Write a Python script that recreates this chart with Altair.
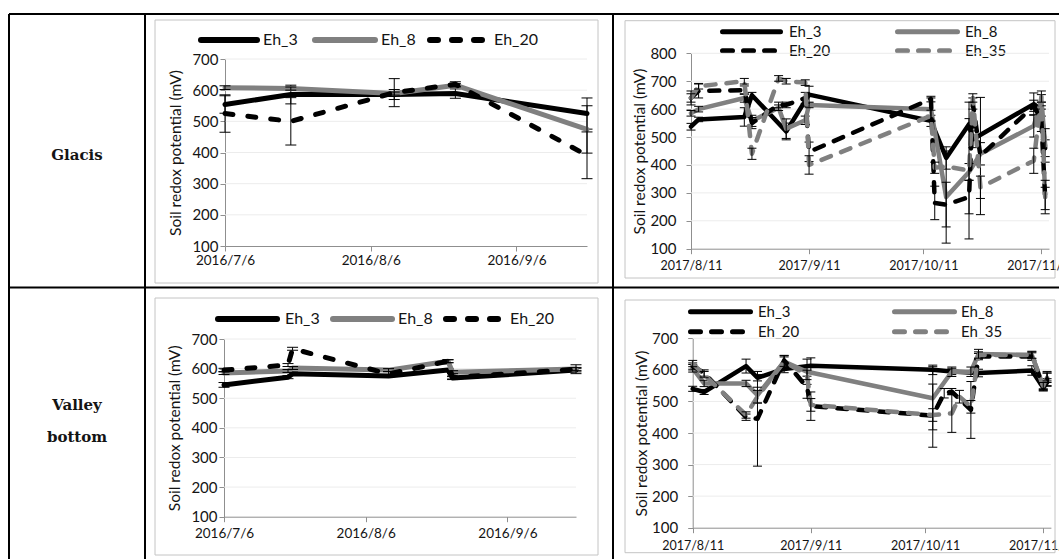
import altair as alt
import pandas as pd

# ------------------------------------------------------------------ data
# Glacis, 2016 campaign
GL16_DATES = ["2016-07-06", "2016-07-20", "2016-08-11", "2016-08-24", "2016-09-21"]
GL16_EH3 = [554, 586, 586, 589, 525]
GL16_EH3_SD = [28, 30, 16, 15, 50]
GL16_EH8 = [608, 605, 589, 616, 474]
GL16_EH8_SD = [6, 5, 5, 5, 76]
GL16_EH20 = [525, 500, 592, 619, 391]
GL16_EH20_SD = [60, 76, 45, 8, 75]

# Valley bottom, 2016 campaign
VB16_DATES = ["2016-07-06", "2016-07-20", "2016-07-21", "2016-08-11",
              "2016-08-24", "2016-08-25", "2016-09-21"]
VB16_EH3 = [545, 571, 583, 575, 595, 568, 595]
VB16_EH3_SD = [8, 5, 5, 5, 5, 5, 6]
VB16_EH8 = [585, 592, 602, 595, 625, 588, 599]
VB16_EH8_SD = [5, 5, 5, 5, 5, 5, 5]
VB16_EH20 = [595, 612, 667, 582, 625, 570, 598]
VB16_EH20_SD = [6, 5, 5, 8, 5, 5, 15]

# Glacis, 2017 campaign
GL17_DATES = ["2017-08-11", "2017-08-13", "2017-08-25", "2017-08-27", "2017-09-03",
              "2017-09-05", "2017-09-10", "2017-09-11", "2017-10-13", "2017-10-14",
              "2017-10-17", "2017-10-23", "2017-10-24", "2017-10-26", "2017-11-09",
              "2017-11-11", "2017-11-12"]
GL17_EH3 = [537, 563, 572, 650, None, 520, None, 652, 558, None, 425, 546, 492, None, 618, 600, 460]
GL17_EH3_SD = [12, 8, 33, 10, None, 30, None, 30, 20, None, 40, 20, 30, None, 40, 25, 30]
GL17_EH8 = [585, 600, 640, 558, 605, 530, 560, 615, 600, None, 285, 375, None, 440, 540, 632, 470]
GL17_EH8_SD = [10, 10, 15, 20, 10, 35, 15, 10, 40, None, 165, 30, None, 40, 40, 20, 60]
GL17_EH20 = [640, 665, 668, 550, 615, 615, 640, 447, 636, 264, 258, 285, 620, 432, 612, 560, 280]
GL17_EH20_SD = [25, 25, 15, 20, 10, 10, 20, 35, 10, 60, 80, 60, 20, 210, 20, 40, 40]
GL17_EH35 = [640, 682, 700, 440, 710, 700, 695, 400, 576, 390, 395, 380, 640, 320, 415, 645, 285]
GL17_EH35_SD = [15, 10, 10, 20, 10, 10, 10, 33, 20, 20, None, 245, 15, 40, 45, 20, 60]

# Valley bottom, 2017 campaign
VB17_DATES = ["2017-08-11", "2017-08-14", "2017-08-25", "2017-08-28", "2017-09-04",
              "2017-09-10", "2017-09-11", "2017-10-13", "2017-10-16", "2017-10-18",
              "2017-10-20", "2017-10-23", "2017-10-25", "2017-11-08", "2017-11-11",
              "2017-11-12"]
VB17_EH3 = [540, 530, 612, 575, 603, None, 613, 600, None, 595, None, None, 590, 598, 543, 560]
VB17_EH3_SD = [8, 8, 22, 10, 12, None, 25, 15, None, 10, None, None, 12, 15, 10, 12]
VB17_EH8 = [605, 557, 557, 520, 626, 594, None, 510, None, 594, None, 594, 650, 647, 548, 575]
VB17_EH8_SD = [12, 10, 10, 25, 20, 40, None, 100, None, 15, None, 15, 15, 12, 10, 15]
VB17_EH20 = [612, 590, 450, 445, 630, 545, 485, 455, 526, 531, None, 473, 642, 642, 547, 570]
VB17_EH20_SD = [10, 10, 10, 150, 15, 35, 45, 100, 15, 10, None, 90, 10, 12, 12, 20]
VB17_EH35 = [620, 585, 457, 515, 626, 584, 489, 457, None, 462, 515, 483, 647, 647, 550, 580]
VB17_EH35_SD = [10, 10, 10, 20, 15, 15, 20, 20, None, 60, 20, 20, 10, 10, 10, 15]

ROW_LABELS = [["Glacis"], ["Valley", "bottom"]]
Y_TITLE = "Soil redox potential (mV)"

# ------------------------------------------------------------------ style
W, H = 1059, 559
FONT = "Lato"
SERIF = "DejaVu Serif"
INK = "#141414"
AXIS_GREY = "#8f8f8f"
GRID_GREY = "#ececec"
FRAME_GREY = "#c4c4c4"
SERIES_COLOR = {"Eh_3": "#000000", "Eh_8": "#808080", "Eh_20": "#000000", "Eh_35": "#808080"}
SERIES_DASHED = {"Eh_3": False, "Eh_8": False, "Eh_20": True, "Eh_35": True}

ONE = alt.Data(values=[{}])


def dt(s):
    y, m, d = (int(p) for p in s.split("-"))
    return alt.DateTime(year=y, month=m, date=d)


def deco_rule(x1, y1, x2=None, y2=None, color="#000000", width=2.0, dash=None, cap="butt"):
    kw = dict(color=color, strokeWidth=width, strokeCap=cap)
    if dash:
        kw["strokeDash"] = dash
    enc = dict(x=alt.value(x1), y=alt.value(y1))
    if x2 is not None:
        enc["x2"] = alt.value(x2)
    if y2 is not None:
        enc["y2"] = alt.value(y2)
    return alt.Chart(ONE).mark_rule(**kw).encode(**enc)


def deco_text(x, y, text, font=FONT, size=14, weight="normal", align="left", color=INK):
    return alt.Chart(ONE).mark_text(
        font=font, fontSize=size, fontWeight=weight, align=align, baseline="middle", color=color
    ).encode(x=alt.value(x), y=alt.value(y), text=alt.value(text))


def panel(dates, series, geo):
    xs = alt.Scale(domain=[dt(geo["start"]), dt(geo["end"])], range=[geo["left"], geo["right"]])
    ys = alt.Scale(domain=[100, geo["ymax"]], range=[geo["bottom"], geo["top"]],
                   nice=False, zero=False)
    xaxis = alt.Axis(
        orient="bottom", offset=geo["bottom"] - H, values=[dt(t) for t in geo["xticks"]],
        format="%Y/%-m/%-d", title=None, grid=False, labelFlush=False, labelOverlap=False,
        tickSize=5, tickColor=AXIS_GREY, domainColor=AXIS_GREY, labelFont=FONT,
        labelFontSize=geo["xfs"], labelColor=INK, labelPadding=geo["xpad"],
    )
    yaxis = alt.Axis(
        orient="left", offset=-geo["left"], values=list(range(100, geo["ymax"] + 1, 100)),
        title=Y_TITLE, grid=False, tickSize=5, tickColor=AXIS_GREY, domainColor=AXIS_GREY,
        labelFont=FONT, labelFontSize=geo["yfs"], labelColor=INK, labelPadding=geo["ypad"],
        titleFont=FONT, titleFontSize=geo["tfs"], titleFontWeight="normal", titleColor=INK,
        titlePadding=geo["tpad"],
    )
    layers = []

    # horizontal gridlines
    grid = pd.DataFrame({"v": list(range(200, geo["ymax"] + 1, 100))})
    grid["t0"] = pd.to_datetime(geo["start"])
    grid["t1"] = pd.to_datetime(geo["end"])
    layers.append(
        alt.Chart(grid).mark_rule(color=GRID_GREY, strokeWidth=1).encode(
            x=alt.X("t0:T", scale=xs, axis=xaxis), x2="t1:T",
            y=alt.Y("v:Q", scale=ys, axis=yaxis),
        )
    )

    for name, (vals, sds) in series.items():
        df = pd.DataFrame({"date": pd.to_datetime(dates), "value": vals, "sd": sds})
        df = df.dropna(subset=["value"])
        kw = dict(color=SERIES_COLOR[name], strokeWidth=geo["lw"], strokeCap="round",
                  strokeJoin="round")
        if SERIES_DASHED[name]:
            kw["strokeDash"] = geo["dash"]
        layers.append(
            alt.Chart(df).mark_line(**kw).encode(
                x=alt.X("date:T", scale=xs, axis=xaxis),
                y=alt.Y("value:Q", scale=ys, axis=yaxis),
            )
        )
        err = df.dropna(subset=["sd"]).copy()
        err["lo"] = err["value"] - err["sd"]
        err["hi"] = err["value"] + err["sd"]
        layers.append(
            alt.Chart(err).mark_rule(color="#000000", strokeWidth=1).encode(
                x=alt.X("date:T", scale=xs, axis=xaxis),
                y=alt.Y("lo:Q", scale=ys, axis=yaxis), y2="hi:Q",
            )
        )
        caps = err.melt(id_vars=["date"], value_vars=["lo", "hi"], value_name="cap")
        layers.append(
            alt.Chart(caps).mark_point(
                shape="M-1,0L1,0", size=geo["cap"] ** 2, filled=False, stroke="#000000",
                strokeWidth=1, opacity=1,
            ).encode(
                x=alt.X("date:T", scale=xs, axis=xaxis),
                y=alt.Y("cap:Q", scale=ys, axis=yaxis),
            )
        )
    return alt.layer(*layers)


def legend(entries, geo):
    out = []
    for name, x1, x2, y, tx in entries:
        r = geo["llw"] / 2
        out.append(deco_rule(x1 + r, y, x2=x2 - r, color=SERIES_COLOR[name], width=geo["llw"],
                             dash=geo["ldash"] if SERIES_DASHED[name] else None, cap="round"))
        out.append(deco_text(tx, y, name, size=geo["lfs"]))
    return out


def frame(x1, y1, x2, y2):
    return alt.Chart(ONE).mark_rect(fillOpacity=0, stroke=FRAME_GREY, strokeWidth=1).encode(
        x=alt.value(x1), x2=alt.value(x2), y=alt.value(y1), y2=alt.value(y2)
    )


GEO16 = dict(start="2016-07-06", end="2016-09-21",
             xticks=["2016-07-06", "2016-08-06", "2016-09-06"], ymax=700,
             xfs=13.5, yfs=15, tfs=15.5, xpad=2, ypad=2, tpad=8, lw=5, dash=[8, 15], cap=11,
             llw=6, ldash=[8, 14], lfs=16)
GEO17 = dict(start="2017-08-11", end="2017-11-13",
             xticks=["2017-08-11", "2017-09-11", "2017-10-11", "2017-11-11"],
             xfs=12.5, yfs=15, tfs=15.5, xpad=6, ypad=10, tpad=2, lw=4.5, dash=[10, 11], cap=9,
             llw=5, ldash=[10, 11], lfs=15)

geo_gl16 = dict(GEO16, left=225, right=587, top=59, bottom=246)
geo_vb16 = dict(GEO16, left=224, right=576, top=339, bottom=516.7, xpad=5)
geo_gl17 = dict(GEO17, left=691, right=1049, top=53.3, bottom=248.7, ymax=800)
geo_vb17 = dict(GEO17, left=692.7, right=1050.9, top=338.3, bottom=527.7, ymax=700, xpad=7)

p_gl16 = panel(GL16_DATES, {"Eh_3": (GL16_EH3, GL16_EH3_SD), "Eh_8": (GL16_EH8, GL16_EH8_SD),
                            "Eh_20": (GL16_EH20, GL16_EH20_SD)}, geo_gl16)
p_vb16 = panel(VB16_DATES, {"Eh_3": (VB16_EH3, VB16_EH3_SD), "Eh_8": (VB16_EH8, VB16_EH8_SD),
                            "Eh_20": (VB16_EH20, VB16_EH20_SD)}, geo_vb16)
p_gl17 = panel(GL17_DATES, {"Eh_3": (GL17_EH3, GL17_EH3_SD), "Eh_8": (GL17_EH8, GL17_EH8_SD),
                            "Eh_20": (GL17_EH20, GL17_EH20_SD),
                            "Eh_35": (GL17_EH35, GL17_EH35_SD)}, geo_gl17)
p_vb17 = panel(VB17_DATES, {"Eh_3": (VB17_EH3, VB17_EH3_SD), "Eh_8": (VB17_EH8, VB17_EH8_SD),
                            "Eh_20": (VB17_EH20, VB17_EH20_SD),
                            "Eh_35": (VB17_EH35, VB17_EH35_SD)}, geo_vb17)

decor = [
    frame(155, 20, 598, 283), frame(625, 20.7, 1055, 278),
    frame(155, 298, 598, 555), frame(625, 300, 1055, 552.7),
]
decor += legend([("Eh_3", 198, 260, 40, 263), ("Eh_8", 312, 378, 40, 381),
                 ("Eh_20", 427, 487, 40, 494)], geo_gl16)
decor += legend([("Eh_3", 215, 280, 319, 285), ("Eh_8", 330, 395, 319, 398),
                 ("Eh_20", 443, 505, 319, 510)], geo_vb16)
decor += legend([("Eh_3", 720, 783, 31.7, 789), ("Eh_8", 895, 960, 31.7, 965),
                 ("Eh_20", 720, 783, 50.7, 789), ("Eh_35", 895, 960, 50.7, 965)], geo_gl17)
decor += legend([("Eh_3", 688, 753, 311.7, 758), ("Eh_8", 892, 957, 311.7, 961),
                 ("Eh_20", 688, 753, 331.7, 758), ("Eh_35", 892, 957, 331.7, 961)], geo_vb17)

# table grid
table = [
    deco_rule(9, 14, x2=W, width=2),
    deco_rule(9, 287.5, x2=W, width=2),
    deco_rule(9, 14, y2=H, width=2),
    deco_rule(145, 14, y2=H, width=2),
    deco_rule(613, 14, y2=H, width=2),
]
labels = [deco_text(77, 155, ROW_LABELS[0][0], font=SERIF, size=15, weight="bold", align="center"),
          deco_text(77, 405, ROW_LABELS[1][0], font=SERIF, size=15, weight="bold", align="center"),
          deco_text(77, 437, ROW_LABELS[1][1], font=SERIF, size=15, weight="bold", align="center")]

chart = alt.layer(
    *decor, p_gl16, p_vb16, p_gl17, p_vb17, *table, *labels
).resolve_scale(
    x="independent", y="independent"
).properties(
    width=W, height=H, padding=0, autosize=alt.AutoSizeParams(type="none"),
    background="#ffffff",
).configure_view(stroke=None)

chart.save("out.html", embed_options={"renderer": "svg", "actions": False})
